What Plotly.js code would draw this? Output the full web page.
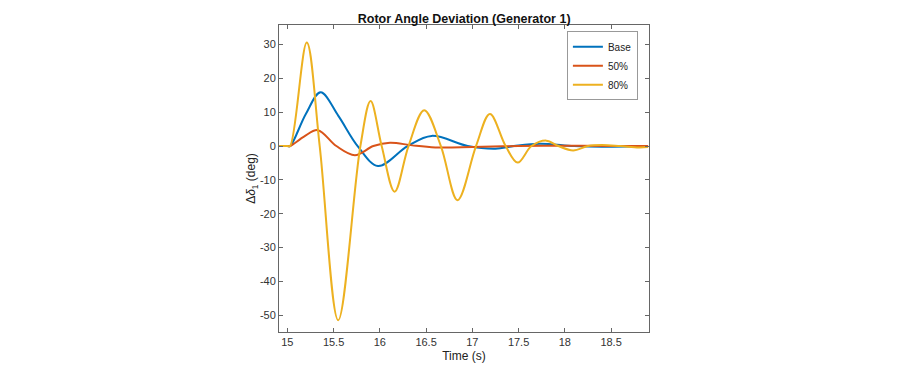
<!DOCTYPE html>
<html>
<head>
<meta charset="utf-8">
<script src="https://cdn.plot.ly/plotly-3.0.1.min.js"></script>
<style>html,body{margin:0;padding:0;background:#fff;}#chart{width:921px;height:365px;}</style>
</head>
<body>
<div id="chart"></div>
<script>
// Time samples (s) and rotor-angle deviations (deg)
const baseT = [14.9, 15.0, 15.03, 15.2, 15.36, 15.55, 15.76, 15.98, 16.3, 16.56, 16.95, 17.25, 17.45, 17.73, 18.1, 18.4, 18.9];
const baseY = [0, 0, 0, 9.5, 15.9, 9.0, 0, -5.9, 0, 3.0, 0, -0.8, 0, 0.7, 0, -0.2, 0];

const p50T = [14.9, 15.0, 15.03, 15.18, 15.33, 15.53, 15.73, 15.93, 16.11, 16.35, 16.6, 17.0, 17.5, 18.0, 18.5, 18.9];
const p50Y = [0, 0, 0, 2.8, 4.7, 0, -2.7, 0, 1.0, 0.2, -0.4, -0.3, 0, 0.1, 0, 0];

const p80T = [14.9, 15.0, 15.03, 15.21, 15.35, 15.55, 15.79, 15.9, 16.02, 16.16, 16.31, 16.48, 16.66, 16.84, 17.04, 17.19, 17.36, 17.49, 17.64, 17.8, 17.93, 18.09, 18.25, 18.4, 18.6, 18.8, 18.9];
const p80Y = [0, 0, 0, 30.6, 0, -51.5, 0, 13.3, 0, -13.5, 0, 10.6, 0, -16, 0, 9.5, 0, -4.9, 0, 1.6, 0, -1.3, 0, 0.3, 0, -0.4, -0.3];

const seriesNames = ['Base', '50%', '80%'];
const xTicks = [15, 15.5, 16, 16.5, 17, 17.5, 18, 18.5];
const yTicks = [-50, -40, -30, -20, -10, 0, 10, 20, 30];

const colors = ['#0072BD', '#D95319', '#EDB120'];
const mk = (x, y, i) => ({x: x, y: y, name: seriesNames[i], type: 'scatter', mode: 'lines',
  line: {color: colors[i], width: 2, shape: 'spline', smoothing: 1}});

const data = [mk(baseT, baseY, 0), mk(p50T, p50Y, 1), mk(p80T, p80Y, 2)];

const axCommon = {showline: true, linecolor: '#666', linewidth: 1, mirror: 'ticks', ticks: 'inside',
  ticklen: 4, tickcolor: '#666', showgrid: false, zeroline: false,
  tickfont: {family: 'Liberation Sans, Arial, sans-serif', size: 11, color: '#333'}};

const layout = {
  width: 921, height: 365,
  margin: {l: 279, r: 272, t: 25, b: 33},
  paper_bgcolor: '#fff', plot_bgcolor: '#fff',
  font: {family: 'Liberation Sans, Arial, sans-serif', color: '#222'},
  title: {text: '<b>Rotor Angle Deviation (Generator 1)</b>', x: 0.504, xanchor: 'center', y: 0.95, yanchor: 'middle',
    font: {size: 12.5, color: '#111'}},
  xaxis: Object.assign({}, axCommon, {range: [14.91, 18.91], tickvals: xTicks, ticktext: xTicks.map(String),
    title: {text: 'Time (s)', font: {size: 12, color: '#222'}, standoff: 4}}),
  yaxis: Object.assign({}, axCommon, {range: [-55, 35.8], tickvals: yTicks, ticktext: yTicks.map(String),
    title: {text: 'Δ<i>δ</i><sub>1</sub> (deg)', font: {size: 12, color: '#222'}, standoff: 0}}),
  showlegend: true,
  legend: {x: 0.97, xanchor: 'right', y: 0.98, yanchor: 'top', bgcolor: '#fff', bordercolor: '#999', borderwidth: 1,
    font: {size: 10, color: '#222'}, tracegroupgap: 0, itemwidth: 30},
};

Plotly.newPlot('chart', data, layout, {displayModeBar: false, staticPlot: true});
</script>
</body>
</html>
